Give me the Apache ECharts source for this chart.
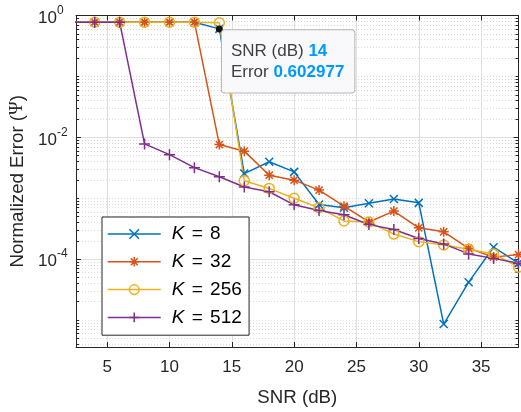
<!DOCTYPE html>
<html>
<head>
<meta charset="utf-8">
<script src="https://cdn.jsdelivr.net/npm/echarts@6/dist/echarts.min.js"></script>
<style>
html, body { margin: 0; padding: 0; background: #fff; }
#chart { width: 521px; height: 412px; }
</style>
</head>
<body>
<div id="chart"></div>
<script>
// SNR sweep (dB)
const snr = [2, 4, 6, 8, 10, 12, 14, 16, 18, 20, 22, 24, 26, 28, 30, 32, 34, 36, 38];

// Normalized error per number of snapshots K
const errK8   = [0.776, 0.776, 0.776, 0.776, 0.776, 0.776, 0.602977, 2.54e-3, 3.98e-3, 2.71e-3, 7.9e-4, 6.97e-4, 8.3e-4, 9.75e-4, 8.4e-4, 8.6e-6, 4.19e-5, 1.57e-4, 8.6e-5];
const errK32  = [0.776, 0.776, 0.776, 0.776, 0.776, 0.776, 7.6e-3, 5.93e-3, 2.39e-3, 1.98e-3, 1.36e-3, 7.4e-4, 4.08e-4, 6.15e-4, 3.27e-4, 2.81e-4, 1.51e-4, 1.08e-4, 1.19e-4];
const errK256 = [0.776, 0.776, 0.776, 0.776, 0.776, 0.776, 0.76, 1.94e-3, 1.45e-3, 1.0e-3, 6.97e-4, 4.24e-4, 4.08e-4, 2.58e-4, 1.94e-4, 1.71e-4, 1.45e-4, 1.22e-4, 7.4e-5];
const errK512 = [0.776, 0.776, 0.776, 7.8e-3, 5.2e-3, 3.18e-3, 2.25e-3, 1.53e-3, 1.28e-3, 7.8e-4, 6.3e-4, 5.36e-4, 3.69e-4, 3.06e-4, 2.19e-4, 1.78e-4, 1.22e-4, 1.03e-4, 8.6e-5];

const seriesNames = ['8', '32', '256', '512'];
const xTicks = [5, 10, 15, 20, 25, 30, 35];
const yTicks = [1e-4, 1e-2, 1];

// Data tip on the K = 8 curve
const tipIndex = 6;

const FONT = '"Liberation Sans", Arial, Helvetica, sans-serif';
const INK = '#262626';
const colors = ['#0072BD', '#D95319', '#EDB120', '#7E2F8E'];
const symbols = [
  'path://M-10,-10L10,10M-10,10L10,-10',
  'path://M-10,0L10,0M0,-10L0,10M-7.2,-7.2L7.2,7.2M-7.2,7.2L7.2,-7.2',
  'circle',
  'path://M-10,0L10,0M0,-10L0,10'
];
const symbolSizes = [8, 10, 10, 11];

const Y_MIN = 3.614e-6, Y_MAX = 1;

// minor log positions: 2..9 of every decade, plus the odd decades
const yMinor = [];
for (let e = -6; e <= 0; e++) {
  for (let m = 1; m <= 9; m++) {
    if (m === 1 && e % 2 === 0) continue;
    const v = m * Math.pow(10, e);
    if (v > Y_MIN && v < Y_MAX) yMinor.push(v);
  }
}

function expLabel(v) {
  const e = Math.round(Math.log10(v));
  return '{b|10}{s|' + e + '}';
}

const chart = echarts.init(document.getElementById('chart'), null, { renderer: 'canvas' });

const lists = [errK8, errK32, errK256, errK512];
const series = lists.map((list, i) => ({
  name: seriesNames[i],
  type: 'line',
  xAxisIndex: 0,
  yAxisIndex: 0,
  data: snr.map((x, j) => [x, list[j]]),
  symbol: symbols[i],
  symbolSize: symbolSizes[i],
  symbolKeepAspect: true,
  showAllSymbol: true,
  clip: true,
  lineStyle: { color: colors[i], width: 1.5 },
  itemStyle: { color: 'rgba(0,0,0,0)', borderColor: colors[i], borderWidth: 1.5 },
  emphasis: { disabled: true },
  z: 2
}));

// data tip: lives on the last-drawn series so it sits above every curve
series[3].markPoint = {
  symbol: 'circle',
  symbolSize: 7,
  silent: true,
  z: 10,
  itemStyle: { color: '#111', borderWidth: 0 },
  label: {
    show: true,
    position: [6.1, 4.9],
    align: 'left',
    verticalAlign: 'top',
    fontFamily: FONT,
    fontSize: 17,
    lineHeight: 21.6,
    color: '#404040',
    backgroundColor: '#f9f9fb',
    borderColor: '#b4b4b4',
    borderWidth: 1,
    borderRadius: 3,
    padding: [10, 10, 9, 9],
    formatter: () => 'SNR (dB) {v|' + snr[tipIndex] + '}\nError {v|' + errK8[tipIndex] + '}',
    rich: {
      v: { color: '#0099ff', fontWeight: 'bold', fontSize: 17, lineHeight: 21.6, fontFamily: FONT }
    }
  },
  data: [{ coord: [snr[tipIndex], errK8[tipIndex]], value: errK8[tipIndex] }]
};

const logAxisBase = {
  type: 'log',
  logBase: 10,
  min: Y_MIN,
  max: Y_MAX
};

const option = {
  animation: false,
  backgroundColor: '#fff',
  textStyle: { fontFamily: FONT },
  grid: { left: 73, right: 2.5, top: 15.5, bottom: 60.3, containLabel: false },
  legend: {
    orient: 'vertical',
    left: 102,
    top: 217,
    padding: [6.5, 7.3, 7.3, 5],
    backgroundColor: '#fff',
    borderColor: INK,
    borderWidth: 1,
    itemWidth: 53,
    itemHeight: 12,
    itemGap: 6.8,
    data: seriesNames,
    formatter: (n) => '{k|K} {e|=} ' + n,
    textStyle: {
      fontFamily: FONT,
      fontSize: 19,
      lineHeight: 21,
      color: '#000',
      padding: [0, 0, 0, 6],
      rich: {
        k: { fontStyle: 'italic', fontSize: 19, lineHeight: 21, fontFamily: FONT, color: '#000' },
        e: { fontSize: 19, lineHeight: 21, fontFamily: FONT, color: '#000', padding: [0, 2, 0, 2] }
      }
    },
    itemStyle: { borderWidth: 1.5 },
    lineStyle: { width: 1.5 },
    selectedMode: false
  },
  xAxis: [
    {
      type: 'value', min: 2.5, max: 38, position: 'bottom',
      axisLine: { show: true, onZero: false, lineStyle: { color: INK, width: 1 } },
      axisTick: { show: true, inside: true, length: 5, customValues: xTicks, lineStyle: { color: INK } },
      axisLabel: { customValues: xTicks, color: INK, fontSize: 17, margin: 12, fontFamily: FONT },
      splitLine: { show: true, lineStyle: { color: '#dfdfdf', width: 1 } },
      name: 'SNR (dB)', nameLocation: 'middle', nameGap: 41,
      nameTextStyle: { fontSize: 18.7, color: INK, fontFamily: FONT }
    },
    {
      type: 'value', min: 2.5, max: 38, position: 'top',
      axisLine: { show: true, onZero: false, lineStyle: { color: INK, width: 1 } },
      axisTick: { show: true, inside: true, length: 5, customValues: xTicks, lineStyle: { color: INK } },
      axisLabel: { show: false },
      splitLine: { show: false }
    }
  ],
  yAxis: [
    Object.assign({}, logAxisBase, {
      position: 'left',
      axisLine: { show: true, onZero: false, lineStyle: { color: INK, width: 1 } },
      axisTick: { show: true, inside: true, length: 5, customValues: yTicks, lineStyle: { color: INK } },
      axisLabel: {
        customValues: yTicks, margin: 38, align: 'left', color: INK,
        formatter: expLabel,
        rich: {
          b: { fontSize: 17, lineHeight: 20, padding: [5, 0, 0, 0], color: INK, fontFamily: FONT },
          s: { fontSize: 12, lineHeight: 14, padding: [0, 0, 10, 0], color: INK, fontFamily: FONT }
        }
      },
      splitLine: { show: true, lineStyle: { color: '#dfdfdf', width: 1 } },
      name: 'Normalized Error ({p|Ψ})', nameLocation: 'middle', nameGap: 49,
      nameTextStyle: {
        fontSize: 18.7, color: INK, fontFamily: FONT,
        rich: { p: { fontSize: 18.7, color: INK, fontFamily: '"Liberation Serif", "DejaVu Serif", serif' } }
      }
    }),
    Object.assign({}, logAxisBase, {
      position: 'left',
      axisLine: { show: false },
      axisTick: { show: true, inside: true, length: 3, customValues: yMinor, lineStyle: { color: INK } },
      axisLabel: { show: false },
      splitLine: { show: true, lineStyle: { color: '#d9d9d9', width: 1, type: [1, 2] } }
    }),
    Object.assign({}, logAxisBase, {
      position: 'right',
      axisLine: { show: true, onZero: false, lineStyle: { color: INK, width: 1 } },
      axisTick: { show: true, inside: true, length: 5, customValues: yTicks, lineStyle: { color: INK } },
      axisLabel: { show: false },
      splitLine: { show: false }
    }),
    Object.assign({}, logAxisBase, {
      position: 'right',
      axisLine: { show: false },
      axisTick: { show: true, inside: true, length: 3, customValues: yMinor, lineStyle: { color: INK } },
      axisLabel: { show: false },
      splitLine: { show: false }
    })
  ],
  series: series
};

chart.setOption(option);
</script>
</body>
</html>
